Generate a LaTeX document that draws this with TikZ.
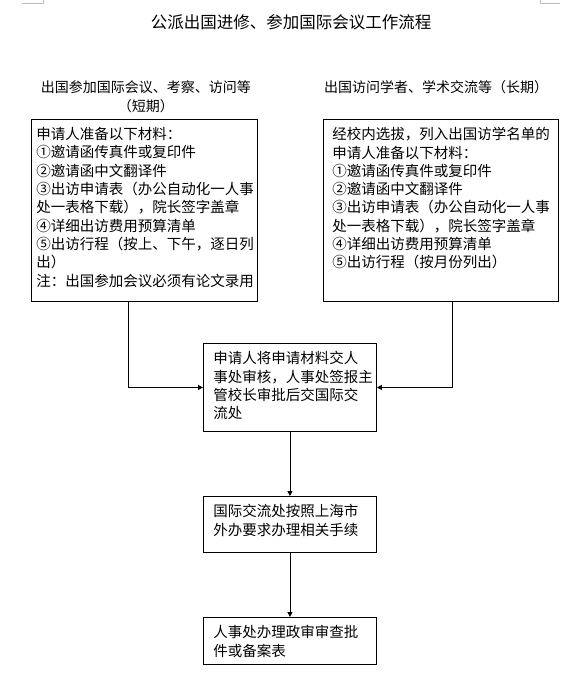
\documentclass[tikz,border=0pt]{standalone}
\usepackage{fontspec}
\setmainfont{Noto Sans CJK SC}
\usepackage{tikz}
\usetikzlibrary{arrows.meta}

% fixed size text block, top aligned
\newcommand{\flowtext}[3]{\parbox[t][#2][t]{#1}{\raggedright\fontsize{14.5}{18.3}\selectfont #3}}

\begin{document}
\begin{tikzpicture}[x=1pt,y=1pt,
    box/.style={draw,line width=0.9pt,inner ysep=8pt,anchor=north west},
    link/.style={line width=0.9pt,-{Triangle[length=5pt,width=5pt]}}]
    \useasboundingbox (0,0) rectangle (584,-697);

    % page corner marks
    \draw[gray!50] (22,-3) -- (43,-3) -- (43,0);
    \draw[gray!50] (560,-3) -- (540,-3) -- (540,0);

    % Title
    \node[font=\fontsize{16.5}{20}\selectfont] (title) at (291,-22) {公派出国进修、参加国际会议工作流程};

    % Column headers
    \node[align=center,font=\fontsize{14}{19}\selectfont] (shorthead) at (146,-96.5)
        {出国参加国际会议、考察、访问等\\（短期）};
    \node[font=\fontsize{14}{19}\selectfont] (longhead) at (436,-87)
        {出国访问学者、学术交流等（长期）};

    % Short-term materials
    \node[box,inner xsep=5pt] (shortbox) at (31,-119) {\flowtext{216pt}{166pt}{%
        申请人准备以下材料：\\
        ①邀请函传真件或复印件\\
        ②邀请函中文翻译件\\
        ③出访申请表（办公自动化一人事\\
        处一表格下载），院长签字盖章\\
        ④详细出访费用预算清单\\
        ⑤出访行程（按上、下午，逐日列\\
        出）\\
        注：出国参加会议必须有论文录用}};

    % Long-term materials
    \node[box,inner xsep=9pt] (longbox) at (323,-119) {\flowtext{217pt}{166pt}{%
        经校内选拔，列入出国访学名单的\\
        申请人准备以下材料：\\
        ①邀请函传真件或复印件\\
        ②邀请函中文翻译件\\
        ③出访申请表（办公自动化一人事\\
        处一表格下载），院长签字盖章\\
        ④详细出访费用预算清单\\
        ⑤出访行程（按月份列出）}};

    % Approval
    \node[box,inner xsep=10pt] (apply) at (203,-343) {\flowtext{153pt}{72pt}{%
        申请人将申请材料交人\\
        事处审核，人事处签报主\\
        管校长审批后交国际交\\
        流处}};

    % Foreign affairs office
    \node[box,inner xsep=10pt] (consult) at (203,-496) {\flowtext{153pt}{40pt}{%
        国际交流处按照上海市\\
        外办要求办理相关手续}};

    % Personnel office
    \node[box,inner xsep=10pt] (record) at (203,-617) {\flowtext{153pt}{31pt}{%
        人事处办理政审审查批\\
        件或备案表}};

    % Connectors
    \coordinate (ljoin) at (128,-386);
    \coordinate (rjoin) at (452,-386);
    \draw[link] (shortbox.south -| ljoin) |- (apply.west);
    \draw[link] (longbox.south -| rjoin) |- (apply.east);
    \draw[link] (apply.south) -- (consult.north);
    \draw[link] (consult.south) -- (record.north);
\end{tikzpicture}
\end{document}
